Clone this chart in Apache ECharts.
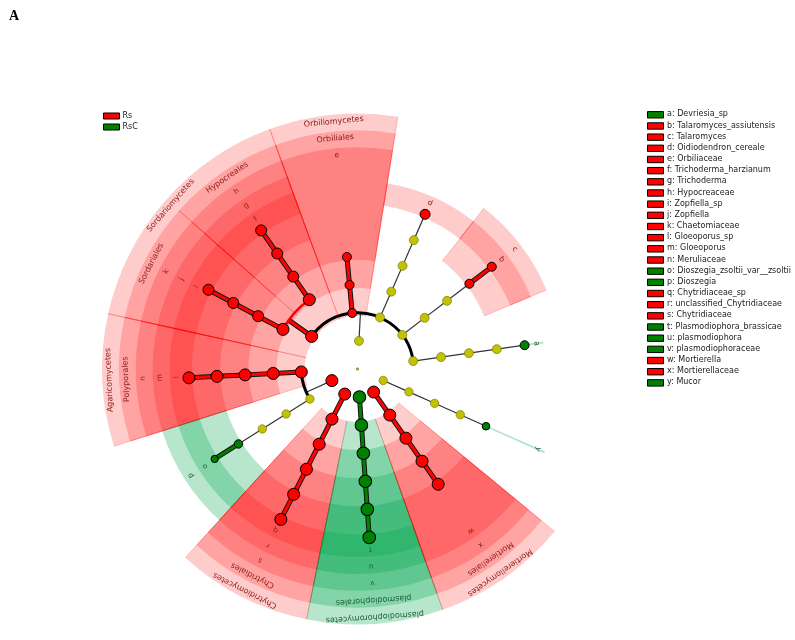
<!DOCTYPE html>
<html><head><meta charset="utf-8">
<script src="https://cdn.jsdelivr.net/npm/echarts@6/dist/echarts.min.js"></script>
<style>html,body{margin:0;padding:0;background:#fff}#c{width:795px;height:640px}</style>
</head><body><div id="c"></div>
<script>
// ---------------- data ----------------
const nodeName = ['root','Ascomycota','Sordariomycetes','Sordariales','Chaetomiaceae','Zopfiella','Zopfiella_sp','Hypocreales','Hypocreaceae','Trichoderma','Trichoderma_harzianum','Orbiliomycetes','Orbiliales','Orbiliaceae','Leotiomycetes','Leotiomycetes_o','Myxotrichaceae','Oidiodendron','Oidiodendron_cereale','Eurotiomycetes','Eurotiales','Trichocomaceae','Talaromyces','Talaromyces_assiutensis','Dothideomycetes','Capnodiales','Teratosphaeriaceae','Devriesia','Devriesia_sp','Basidiomycota','Agaricomycetes','Polyporales','Meruliaceae','Gloeoporus','Gloeoporus_sp','Tremellomycetes','Tremellales','Bulleribasidiaceae','Dioszegia','Dioszegia_zsoltii_var__zsoltii','Chytridiomycota','Chytridiomycetes','Chytridiales','Chytridiaceae','unclassified_Chytridiaceae','Chytridiaceae_sp','Cercozoa','plasmodiophoromycetes','plasmodiophorales','plasmodiophoraceae','plasmodiophora','Plasmodiophora_brassicae','Mortierellomycota','Mortierellomycetes','Mortierellales','Mortierellaceae','Mortierella','Mucoromycota','Mucoromycetes','Mucorales','Mucoraceae','Mucor'];
const nodeParent = [-1,0,1,2,3,4,5,2,7,8,9,1,11,12,1,14,15,16,17,1,19,20,21,22,1,24,25,26,27,0,29,30,31,32,33,29,35,36,37,38,0,40,41,42,43,44,0,46,47,48,49,50,0,52,53,54,55,0,57,58,59,60];
const nodeLevel = [0,1,2,3,4,5,6,3,4,5,6,2,3,4,2,3,4,5,6,2,3,4,5,6,2,3,4,5,6,1,2,3,4,5,6,2,3,4,5,6,1,2,3,4,5,6,1,2,3,4,5,6,1,2,3,4,5,1,2,3,4,5];
const nodeAngle = [0,87,144.6,152,152,152,152,124.8,124.8,124.8,124.8,95.4,95.4,95.4,66.4,66.4,66.4,66.4,66.4,37.3,37.3,37.3,37.3,37.3,8.1,8.1,8.1,8.1,8.1,204.4,183,183,183,183,183,212.2,212.2,212.2,212.2,212.2,243,243,243,243,243,243,274,274,274,274,274,274,305,305,305,305,305,336,336,336,336,336];
const nodeClass = ['-','-','Rs','Rs','Rs','Rs','Rs','Rs','Rs','Rs','Rs','Rs','Rs','Rs','-','-','-','-','Rs','-','-','-','Rs','Rs','-','-','-','-','RsC','Rs','Rs','Rs','Rs','Rs','Rs','-','-','-','RsC','RsC','Rs','Rs','Rs','Rs','Rs','Rs','RsC','RsC','RsC','RsC','RsC','RsC','Rs','Rs','Rs','Rs','Rs','-','-','-','-','RsC'];
const nodeAbundance = [1.2,4.5,6,6,5.5,5.5,5.5,6,5.5,5.5,5.5,4.5,4.5,4.5,4.5,4.5,4.5,4.5,5,4.5,4.5,4.5,4.5,4.5,4.5,4.5,4.5,4.5,4.5,6,6,6,6,6,6,4.2,4.2,4.2,4.2,3.6,6,6,6,6,6,6,6.3,6.3,6.3,6.3,6.3,6.3,6,6,6,6,6,4.2,4.2,4.2,4.2,3.8];
const nodeLabel = ['','','Sordariomycetes','Sordariales','k','j','i','Hypocreales','h','g','f','Orbiliomycetes','Orbiliales','e','','','','','d','','','','c','b','','','','','a','','Agaricomycetes','Polyporales','n','m','l','','','','p','o','','Chytridiomycetes','Chytridiales','s','r','q','','plasmodiophoromycetes','plasmodiophorales','v','u','t','','Mortierellomycetes','Mortierellales','x','w','','','','','y'];
const groupNames = ['Rs','RsC'];
const biomarkerLetters = ['a','b','c','d','e','f','g','h','i','j','k','l','m','n','o','p','q','r','s','t','u','v','w','x','y'];
const biomarkerNames = ['Devriesia_sp','Talaromyces_assiutensis','Talaromyces','Oidiodendron_cereale','Orbiliaceae','Trichoderma_harzianum','Trichoderma','Hypocreaceae','Zopfiella_sp','Zopfiella','Chaetomiaceae','Gloeoporus_sp','Gloeoporus','Meruliaceae','Dioszegia_zsoltii_var__zsoltii','Dioszegia','Chytridiaceae_sp','unclassified_Chytridiaceae','Chytridiaceae','Plasmodiophora_brassicae','plasmodiophora','plasmodiophoraceae','Mortierella','Mortierellaceae','Mucor'];
const biomarkerGroup = ['RsC','Rs','Rs','Rs','Rs','Rs','Rs','Rs','Rs','Rs','Rs','Rs','Rs','Rs','RsC','RsC','Rs','Rs','Rs','RsC','RsC','RsC','Rs','Rs','RsC'];

// ---------------- styling / layout helpers ----------------
const NODE_COL = {Rs:'#ff0000', RsC:'#008000', '-':'#c2c200'};
const WEDGE_COL = {Rs:'rgba(255,0,0,0.2)', RsC:'rgba(0,165,75,0.28)'};
const EDGE_COL = {Rs:'rgba(255,0,0,0.3)', RsC:'rgba(0,140,60,0.3)'};
const TEXT_COL = {Rs:'#8f2020', RsC:'#1e5e3a'};
const narrowSet = new Set(['a','y']);
const startR = l => l - 0.12;
const endR = l => 6.68 + 0.6*(6 - l);
const labelR = l => endR(l) - 0.25;

const N = nodeName.length;
const children = nodeName.map(() => []);
nodeParent.forEach((p,i) => { if (p >= 0) children[p].push(i); });
function leaves(i){ return children[i].length ? children[i].flatMap(leaves) : [i]; }

// angular slot of each leaf: half-way to its neighbours round the circle
const allLeaves = leaves(0).map(i => nodeAngle[i]).sort((a,b) => a-b);
function leafSlot(a){
  const k = allLeaves.indexOf(a), n = allLeaves.length;
  const prev = k > 0 ? allLeaves[k-1] : allLeaves[n-1]-360;
  const next = k < n-1 ? allLeaves[k+1] : allLeaves[0]+360;
  return [(a+prev)/2, (a+next)/2];
}

const hl = [];
for (let i=0;i<N;i++) if (nodeClass[i] !== '-' && nodeLevel[i] >= 2) hl.push(i);
function span(i){
  if (narrowSet.has(nodeLabel[i])) return [nodeAngle[i]-0.3, nodeAngle[i]+0.3];
  const la = leaves(i).map(j => nodeAngle[j]);
  return [leafSlot(Math.min(...la))[0], leafSlot(Math.max(...la))[1]];
}

// edges
const edges = [];
for (let n=1;n<N;n++){
  const ch = children[n];
  if (!ch.length) continue;
  if (ch.length === 1){
    const c = ch[0];
    const col = (nodeClass[n] !== '-' && nodeClass[n] === nodeClass[c]) ? nodeClass[n] : null;
    edges.push({k:'seg', r1:nodeLevel[n], a1:nodeAngle[n], r2:nodeLevel[c], a2:nodeAngle[c], col});
  } else {
    const same = nodeClass[n] !== '-' && ch.every(c => nodeClass[c] === nodeClass[n]);
    const col = same ? nodeClass[n] : null;
    const rc = nodeLevel[ch[0]];
    const angs = ch.map(c => nodeAngle[c]);
    edges.push({k:'seg', r1:nodeLevel[n], a1:nodeAngle[n], r2:rc, a2:nodeAngle[n], col});
    edges.push({k:'arc', r:rc, a0:Math.min(...angs), a1:Math.max(...angs), col});
  }
}

function dist(p, cx, cy){ return Math.hypot(p[0]-cx, p[1]-cy); }
function sang(p, cx, cy){ return Math.atan2(p[1]-cy, p[0]-cx); }

const chart = echarts.init(document.getElementById('c'), null, {renderer:'canvas'});

const wedgeSeries = {
  type:'custom', coordinateSystem:'polar', z:1, silent:true,
  data: hl.map(i => [nodeLevel[i], nodeAngle[i]]),
  renderItem(params, api){
    const i = hl[params.dataIndex];
    const cs = params.coordSys, cx = cs.cx, cy = cs.cy;
    const lv = nodeLevel[i];
    const [a0, a1] = span(i);
    const rv0 = narrowSet.has(nodeLabel[i]) ? lv : startR(lv);
    const rv1 = endR(lv);
    const p00 = api.coord([rv0, a0]), p01 = api.coord([rv0, a1]);
    const p10 = api.coord([rv1, a0]), p11 = api.coord([rv1, a1]);
    const r0 = dist(p00,cx,cy), r1 = dist(p10,cx,cy);
    let s = sang(p11,cx,cy), e = sang(p10,cx,cy);
    while (e < s) e += 2*Math.PI;
    const g = nodeClass[i];
    const kids = [{type:'sector', shape:{cx,cy,r0,r:r1,startAngle:s,endAngle:e,clockwise:true}, style:{fill:WEDGE_COL[g]}}];
    if (!narrowSet.has(nodeLabel[i])){
      kids.push({type:'line', shape:{x1:p00[0],y1:p00[1],x2:p10[0],y2:p10[1]}, style:{stroke:EDGE_COL[g], lineWidth:0.7}});
      kids.push({type:'line', shape:{x1:p01[0],y1:p01[1],x2:p11[0],y2:p11[1]}, style:{stroke:EDGE_COL[g], lineWidth:0.7}});
    }
    return {type:'group', children:kids};
  }
};

const edgeSeries = {
  type:'custom', coordinateSystem:'polar', z:2, silent:true,
  data: edges.map(e => [e.k==='seg'?e.r2:e.r, e.k==='seg'?e.a2:e.a0]),
  renderItem(params, api){
    const e = edges[params.dataIndex];
    const cs = params.coordSys, cx = cs.cx, cy = cs.cy;
    if (e.k === 'seg'){
      const p = api.coord([e.r1, e.a1]), q = api.coord([e.r2, e.a2]);
      const shape = {x1:p[0],y1:p[1],x2:q[0],y2:q[1]};
      if (e.col){
        return {type:'group', children:[
          {type:'line', shape, style:{stroke:'#111', lineWidth:5}},
          {type:'line', shape, style:{stroke:NODE_COL[e.col], lineWidth:3.1}}
        ]};
      }
      return {type:'line', shape, style:{stroke:'#333', lineWidth:1.2}};
    }
    const pa = api.coord([e.r, e.a0]), pb = api.coord([e.r, e.a1]);
    const r = dist(pa,cx,cy);
    let s = sang(pb,cx,cy), en = sang(pa,cx,cy);
    while (en < s) en += 2*Math.PI;
    return {type:'arc', shape:{cx,cy,r,startAngle:s,endAngle:en,clockwise:true},
      style:{stroke: e.col ? NODE_COL[e.col] : '#000', lineWidth: e.col ? 2.6 : 3, fill:null}};
  }
};

const labelSeries = {
  type:'custom', coordinateSystem:'polar', z:5, silent:true,
  data: hl.map(i => [labelR(nodeLevel[i]), nodeAngle[i]]),
  renderItem(params, api){
    const i = hl[params.dataIndex];
    const [a0, a1] = span(i);
    const am = (a0 + a1)/2;
    const p = api.coord([labelR(nodeLevel[i]), am]);
    const big = nodeLabel[i].length > 1;
    return {type:'text', x:p[0], y:p[1], rotation:(am-90)*Math.PI/180,
      style:{text:nodeLabel[i], fill:TEXT_COL[nodeClass[i]], font:(big?'8px':'7.5px')+' "DejaVu Sans"',
        align:'center', verticalAlign:'middle', textAlign:'center', textVerticalAlign:'middle'}};
  }
};

function nodeSeries(name, g){
  const idx = [];
  for (let i=0;i<N;i++) if (nodeClass[i] === g) idx.push(i);
  return {
    type:'scatter', name, coordinateSystem:'polar', z:3, silent:true,
    data: idx.map(i => [nodeLevel[i], nodeAngle[i], nodeAbundance[i]]),
    symbol:'circle',
    symbolSize: v => v[2]*2,
    itemStyle:{color:NODE_COL[g], borderColor: g==='-' ? '#6b6b00' : '#000', borderWidth: g==='-' ? 0.6 : 1, opacity:1}
  };
}

// right-hand legend built from biomarker arrays
const legendGraphics = [];
biomarkerLetters.forEach((L, k) => {
  const y = 114.3 + k*11.17;
  legendGraphics.push({type:'rect', left:647, top:y-3.2, shape:{width:16, height:6.4},
    style:{fill:NODE_COL[biomarkerGroup[k]], stroke:'#000', lineWidth:1}});
  legendGraphics.push({type:'text', x:667, y:y, style:{text:L+': '+biomarkerNames[k], fill:'#222',
    font:'8px "DejaVu Sans"', textVerticalAlign:'middle', verticalAlign:'middle'}});
});
legendGraphics.push({type:'text', x:9, y:9, style:{text:'A', fill:'#000', font:'bold 14px "Liberation Serif"'}});

chart.setOption({
  animation:false,
  backgroundColor:'#fff',
  polar:{center:[357.5,369], radius:[0,256]},
  angleAxis:{type:'value', min:0, max:360, startAngle:0, clockwise:false, show:false},
  radiusAxis:{type:'value', min:0, max:9.1, show:false},
  legend:{data:groupNames, orient:'vertical', left:103, top:112, padding:0, itemWidth:16, itemHeight:6, itemGap:3,
    icon:'rect', selectedMode:false, itemStyle:{borderColor:'#000', borderWidth:1},
    textStyle:{fontSize:8, fontFamily:'DejaVu Sans', color:'#222', padding:[0,0,0,-2]}},
  graphic: legendGraphics,
  series:[wedgeSeries, edgeSeries, nodeSeries('Rs','Rs'), nodeSeries('RsC','RsC'), nodeSeries('other','-'), labelSeries]
});
</script></body></html>
